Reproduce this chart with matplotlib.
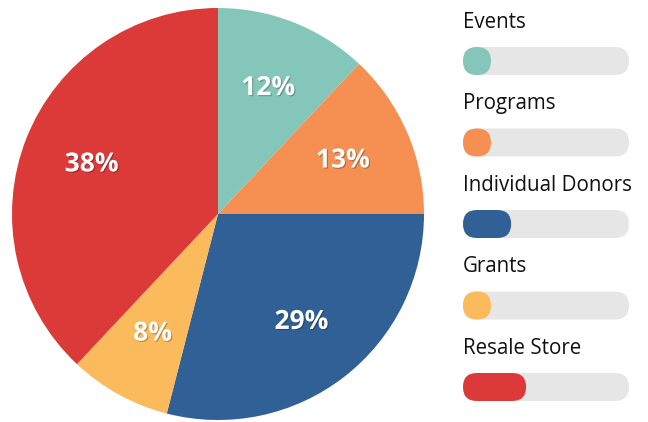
import matplotlib.pyplot as plt
import matplotlib.patheffects as pe
from matplotlib.patches import FancyBboxPatch

plt.rcParams['font.family'] = ['Open Sans', 'DejaVu Sans']

# data
categories = ['Events', 'Programs', 'Individual Donors', 'Grants', 'Resale Store']
shares = [12, 13, 29, 8, 38]
colors = ['#84C7BA', '#F58F52', '#316096', '#FBBA5B', '#DB3A39']

W, H = 648, 422
fig = plt.figure(figsize=(W / 100, H / 100), dpi=100)

# pie on the left
ax = fig.add_axes([12 / W, 2 / H, 412 / W, 412 / H])
wedges, texts, autotexts = ax.pie(
    shares, colors=colors, startangle=90, counterclock=False,
    autopct='%d%%', pctdistance=0.66,
    wedgeprops=dict(linewidth=0),
    textprops=dict(color='white', fontsize=19, fontweight='bold'))
for t in autotexts:
    t.set_path_effects([pe.withSimplePatchShadow(offset=(0.8, -0.8), alpha=0.25, shadow_rgbFace='black')])
ax.set_xlim(-1, 1)
ax.set_ylim(-1, 1)
ax.set_aspect('equal')

# progress-bar legend on the right, in pixel coords
lg = fig.add_axes([0, 0, 1, 1])
lg.set_xlim(0, W)
lg.set_ylim(H, 0)
lg.axis('off')

x0, track_w, bar_h = 463, 166, 28
first_y, step = 61, 81.5
for i, (name, val, c) in enumerate(zip(categories, shares, colors)):
    yc = first_y + i * step
    lg.text(x0, yc - 33, name, fontsize=14.8, color='#111111', va='baseline', ha='left')
    track = FancyBboxPatch((x0, yc - bar_h / 2), track_w, bar_h,
                           boxstyle='round,pad=0,rounding_size=14',
                           facecolor='#E6E6E6', edgecolor='none')
    lg.add_patch(track)
    fill_w = max(val / 100 * track_w, bar_h)
    fill = FancyBboxPatch((x0, yc - bar_h / 2), fill_w, bar_h,
                          boxstyle='round,pad=0,rounding_size=14',
                          facecolor=c, edgecolor='none')
    lg.add_patch(fill)

fig.savefig('out.png', dpi=100)
